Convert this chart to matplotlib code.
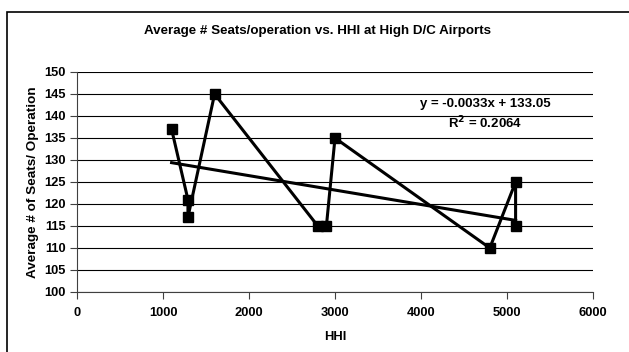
import matplotlib.pyplot as plt
import numpy as np
from matplotlib.patches import Rectangle

plt.rcParams['font.family'] = ['Liberation Sans', 'DejaVu Sans']
plt.rcParams['font.weight'] = 'bold'

# data (order as plotted)
hhi = [1100, 1290, 1290, 1600, 2800, 2900, 3000, 4800, 5100, 5100]
seats = [137, 121, 117, 145, 115, 115, 135, 110, 125, 115]
y_ticks = [100, 105, 110, 115, 120, 125, 130, 135, 140, 145, 150]
x_ticks = [0, 1000, 2000, 3000, 4000, 5000, 6000]

W, H = 629, 352
fig = plt.figure(figsize=(W / 100, H / 100), dpi=100)
ax = fig.add_axes([77 / W, 1 - 292 / H, (593 - 77) / W, (292 - 72) / H])

# outer chart border
fig.patches.append(Rectangle((7 / W, -0.1), 1.1, 1 - 12 / H + 0.1, transform=fig.transFigure,
                             fill=False, edgecolor='black', linewidth=1.2))

ax.set_xlim(0, 6000)
ax.set_ylim(100, 150)
ax.set_xticks(x_ticks)
ax.set_yticks(y_ticks)
ax.yaxis.grid(True, color='black', linewidth=0.8)
ax.set_axisbelow(True)
for s in ['top', 'right']:
    ax.spines[s].set_visible(False)
ax.spines['left'].set_color('#404040')
ax.spines['bottom'].set_color('#404040')
ax.tick_params(direction='out', length=5, width=0.8, labelsize=9.3, color='#404040')
ax.tick_params(axis='y', pad=3)
ax.tick_params(axis='x', pad=5.5)

ax.plot(hhi, seats, color='black', linewidth=2.2, marker='s', markersize=7.5, zorder=3)

# linear trendline
slope, icpt = np.polyfit(hhi, seats, 1)
xs = np.array([min(hhi), max(hhi)])
ax.plot(xs, slope * xs + icpt, color='black', linewidth=2.2, zorder=3)

ax.text(4744, 142.8, 'y = -0.0033x + 133.05', ha='center', va='center', fontsize=9.5, fontweight='bold')
ax.text(4744, 138.3, 'R$^2$ = 0.2064', ha='center', va='center', fontsize=9.5, fontweight='bold')

ax.set_xlabel('HHI', fontsize=9.3, fontweight='bold', labelpad=9)
ax.set_ylabel('Average # of Seats/ Operation', fontsize=9.7, fontweight='bold', labelpad=4)
fig.text(318 / W, 1 - 31 / H, 'Average # Seats/operation vs. HHI at High D/C Airports',
         ha='center', va='center', fontsize=9.6, fontweight='bold')

fig.savefig('out.png', dpi=100)
